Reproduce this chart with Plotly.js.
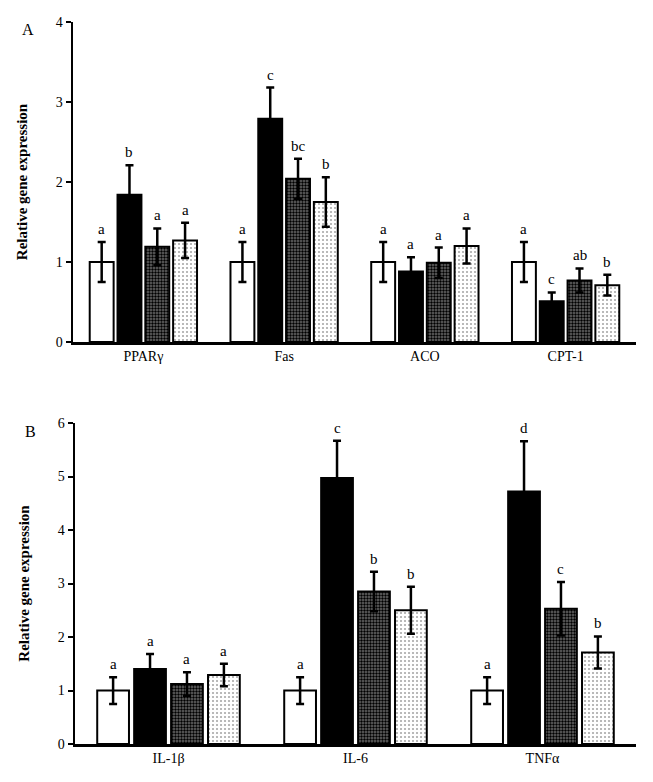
<!DOCTYPE html>
<html><head><meta charset="utf-8">
<script src="https://cdn.plot.ly/plotly-3.0.1.min.js"></script>
<style>body{margin:0;padding:0;background:#fff}#c{width:653px;height:782px}</style>
</head><body><div id="c"></div>
<script>
const genesA = ['PPARγ','Fas','ACO','CPT-1'];
const genesB = ['IL-1β','IL-6','TNFα'];
const seriesNames = ['Control','Group 2','Group 3','Group 4'];

const valA = [
  [1.00, 1.00, 1.00, 1.00],
  [1.84, 2.79, 0.88, 0.51],
  [1.19, 2.04, 0.99, 0.77],
  [1.27, 1.75, 1.20, 0.71]
];
const errA = [
  [0.25, 0.25, 0.25, 0.25],
  [0.37, 0.39, 0.18, 0.11],
  [0.23, 0.25, 0.19, 0.15],
  [0.22, 0.31, 0.22, 0.13]
];
const letA = [
  ['a','a','a','a'],
  ['b','c','a','c'],
  ['a','bc','a','ab'],
  ['a','b','a','b']
];

const valB = [
  [1.00, 1.00, 1.00],
  [1.40, 4.97, 4.72],
  [1.12, 2.85, 2.53],
  [1.29, 2.50, 1.71]
];
const errB = [
  [0.25, 0.25, 0.25],
  [0.28, 0.70, 0.94],
  [0.22, 0.37, 0.50],
  [0.21, 0.44, 0.30]
];
const letB = [
  ['a','a','a'],
  ['a','c','d'],
  ['a','b','c'],
  ['a','b','b']
];

const FONT = '"Liberation Serif", "Times New Roman", serif';
const markers = [
  {color:'#ffffff', line:{color:'#000', width:2}},
  {color:'#000000', line:{color:'#000', width:2}},
  {color:'#555555', line:{color:'#000', width:2}, pattern:{shape:'.', fgcolor:'#000', bgcolor:'#6a6a6a', size:3, solidity:0.5}},
  {color:'#ffffff', line:{color:'#000', width:2}, pattern:{shape:'.', fgcolor:'#a8a8a8', bgcolor:'#ffffff', size:4, solidity:0.22}}
];

const traces = [];
function addPanel(cats, vals, errs, xa, ya){
  for (let j=0;j<4;j++){
    traces.push({
      type:'bar', x:cats, y:vals[j], name:seriesNames[j], xaxis:xa, yaxis:ya,
      marker:markers[j], showlegend:false, hoverinfo:'skip',
      error_y:{type:'data', array:errs[j], visible:true, color:'#000', thickness:2.5, width:4}
    });
  }
}
addPanel(genesA, valA, errA, 'x', 'y');
addPanel(genesB, valB, errB, 'x2', 'y2');

const BARGAP = 0.21;
const step = (1-BARGAP)/4;
const annotations = [];
function addLetters(cats, vals, errs, lets, xr, yr){
  for (let j=0;j<4;j++) for (let i=0;i<cats.length;i++){
    annotations.push({
      xref:xr, yref:yr, x:i + (j-1.5)*step, y:vals[j][i]+errs[j][i],
      text:lets[j][i], showarrow:false, yanchor:'bottom', yshift:3,
      font:{family:FONT, size:15, color:'#000'}
    });
  }
}
addLetters(genesA, valA, errA, letA, 'x', 'y');
addLetters(genesB, valB, errB, letB, 'x2', 'y2');
annotations.push({xref:'paper', yref:'paper', x:28/653, y:1-30/782, text:'A', showarrow:false, xanchor:'center', yanchor:'middle', font:{family:FONT, size:16, color:'#000'}});
annotations.push({xref:'paper', yref:'paper', x:30/653, y:1-431/782, text:'B', showarrow:false, xanchor:'center', yanchor:'middle', font:{family:FONT, size:16, color:'#000'}});

const yTitle = {text:'<b>Relative gene expression</b>', font:{family:FONT, size:15, color:'#000'}, standoff:25};
const xBase = {showline:true, linecolor:'#000', linewidth:2.5, ticks:'', showgrid:false, zeroline:false,
  tickfont:{family:FONT, size:14, color:'#000'}, fixedrange:true};
const yBase = {showline:true, linecolor:'#000', linewidth:2.5, ticks:'outside', ticklen:5, tickwidth:2, tickcolor:'#000',
  showgrid:false, zeroline:false, tickfont:{family:FONT, size:14, color:'#000'}, dtick:1, fixedrange:true};

const layout = {
  width:653, height:782, margin:{l:0,r:0,t:0,b:0}, paper_bgcolor:'#fff', plot_bgcolor:'#fff',
  barmode:'group', bargap:BARGAP, bargroupgap:0.14,
  xaxis:Object.assign({}, xBase, {domain:[73/653, 636/653], anchor:'y'}),
  yaxis:Object.assign({}, yBase, {domain:[1-342/782, 1-22/782], range:[0,4], anchor:'x', title:yTitle}),
  xaxis2:Object.assign({}, xBase, {domain:[75/653, 636/653], anchor:'y2'}),
  yaxis2:Object.assign({}, yBase, {domain:[1-744/782, 1-423/782], range:[0,6], anchor:'x2', title:yTitle}),
  annotations:annotations
};
Plotly.newPlot('c', traces, layout, {displayModeBar:false, staticPlot:true});
</script></body></html>
